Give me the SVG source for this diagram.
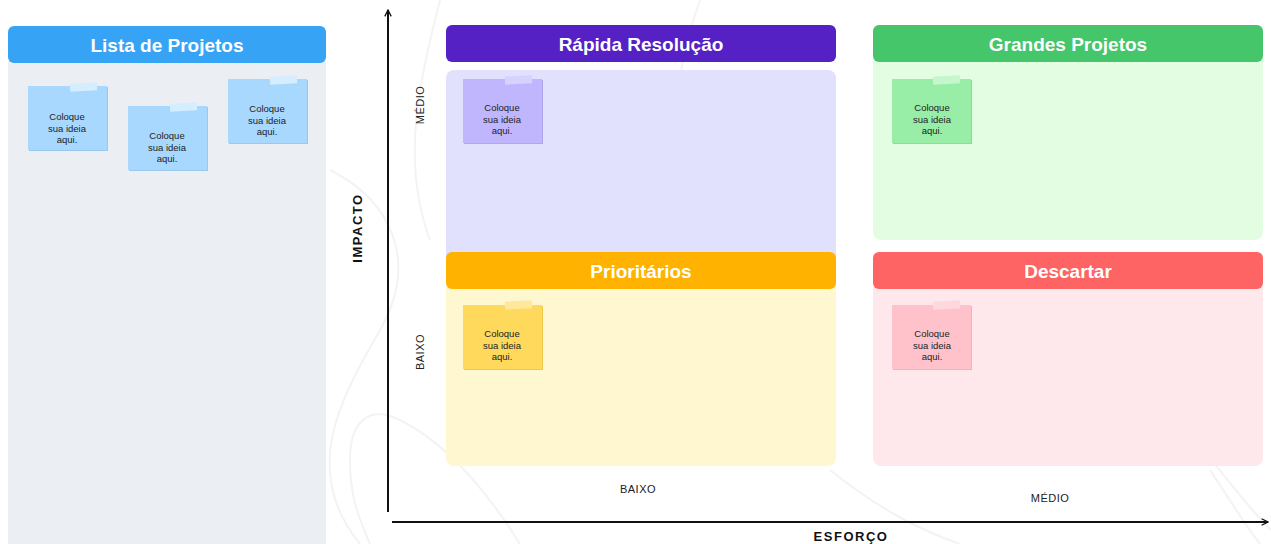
<svg xmlns="http://www.w3.org/2000/svg" width="1271" height="544" viewBox="0 0 1271 544">
<style>
.hdr{font-family:"Liberation Sans",Arial,sans-serif;font-weight:bold;font-size:19px;fill:#ffffff;text-anchor:middle}
.note{font-family:"Liberation Sans",Arial,sans-serif;font-size:9.5px;fill:#222222;text-anchor:middle}
.ax{font-family:"Liberation Sans",Arial,sans-serif;font-size:11px;fill:#222222;text-anchor:middle;letter-spacing:0.5px}
.axb{font-family:"Liberation Sans",Arial,sans-serif;font-weight:bold;font-size:13px;fill:#111111;text-anchor:middle;letter-spacing:1.5px}
.deco{fill:none;stroke:#f3f3f3;stroke-width:2}
.axis{stroke:#111111;stroke-width:2;fill:none}
</style>
<defs>
<marker id="arr" viewBox="0 0 10 10" refX="9" refY="5" markerWidth="8" markerHeight="8" orient="auto" markerUnits="userSpaceOnUse">
<path d="M1,1 L9,5 L1,9" fill="none" stroke="#111111" stroke-width="1.6"/>
</marker>
</defs>
<rect width="1271" height="544" fill="#ffffff"/>
<g id="decoration">
<path class="deco" d="M330,170 C390,200 420,260 380,330 C340,400 300,470 360,544"/>
<path class="deco" d="M440,0 C420,80 400,160 430,240"/>
<path class="deco" d="M520,544 C480,480 440,440 400,420 C370,405 350,420 350,460 C350,500 360,520 370,544"/>
<path class="deco" d="M830,470 C880,510 920,530 960,544"/>
<path class="deco" d="M1180,420 C1220,470 1250,510 1271,530"/>
<path class="deco" d="M700,0 C690,30 680,60 680,90"/>
<path class="deco" d="M1210,470 C1230,500 1245,525 1260,544"/>
</g>
<g id="lista-projetos">
<rect x="8" y="56" width="318" height="500" rx="6" fill="#ebeff3"/>
<rect x="8" y="26" width="318" height="37" rx="6" fill="#36a3f5"/>
<text class="hdr" x="167" y="52">Lista de Projetos</text>
</g>
<g id="note-lista-1">
<rect x="29" y="87" width="79" height="64" fill="#98c8ee"/>
<rect x="28" y="86" width="79" height="64" fill="#a8d8fd"/>
<rect x="70" y="83" width="27" height="8" fill="#d4eeff" transform="rotate(-3 83 87)"/>
<text class="note" x="67" y="120">Coloque</text>
<text class="note" x="67" y="131.5">sua ideia</text>
<text class="note" x="67" y="143">aqui.</text>
</g>
<g id="note-lista-2">
<rect x="129" y="107" width="79" height="64" fill="#98c8ee"/>
<rect x="128" y="106" width="79" height="64" fill="#a8d8fd"/>
<rect x="170" y="103" width="27" height="8" fill="#d4eeff" transform="rotate(-3 183 107)"/>
<text class="note" x="167" y="139">Coloque</text>
<text class="note" x="167" y="150.5">sua ideia</text>
<text class="note" x="167" y="162">aqui.</text>
</g>
<g id="note-lista-3">
<rect x="229" y="80" width="79" height="64" fill="#98c8ee"/>
<rect x="228" y="79" width="79" height="64" fill="#a8d8fd"/>
<rect x="270" y="76" width="27" height="8" fill="#d4eeff" transform="rotate(-3 283 80)"/>
<text class="note" x="267" y="112">Coloque</text>
<text class="note" x="267" y="123.5">sua ideia</text>
<text class="note" x="267" y="135">aqui.</text>
</g>
<g id="rapida-resolucao">
<rect x="446" y="70" width="390" height="200" rx="8" fill="#e1e1fe"/>
<rect x="446" y="25" width="390" height="37" rx="6" fill="#5521c4"/>
<text class="hdr" x="641" y="51">Rápida Resolução</text>
</g>
<g id="note-rapida">
<rect x="464" y="80" width="79" height="64" fill="#b0a6ee"/>
<rect x="463" y="79" width="79" height="64" fill="#c0b6fe"/>
<rect x="505" y="76" width="27" height="8" fill="#d6d2fe" transform="rotate(-3 518 80)"/>
<text class="note" x="502" y="111">Coloque</text>
<text class="note" x="502" y="122.5">sua ideia</text>
<text class="note" x="502" y="134">aqui.</text>
</g>
<g id="grandes-projetos">
<rect x="873" y="52" width="390" height="188" rx="8" fill="#e3fde3"/>
<rect x="873" y="25" width="390" height="37" rx="6" fill="#45c66a"/>
<text class="hdr" x="1068" y="51">Grandes Projetos</text>
</g>
<g id="note-grandes">
<rect x="893" y="80" width="79" height="64" fill="#88de96"/>
<rect x="892" y="79" width="79" height="64" fill="#98eea6"/>
<rect x="933" y="76" width="27" height="8" fill="#c6f6cc" transform="rotate(-3 946 80)"/>
<text class="note" x="932" y="111">Coloque</text>
<text class="note" x="932" y="122.5">sua ideia</text>
<text class="note" x="932" y="134">aqui.</text>
</g>
<g id="prioritarios">
<rect x="446" y="280" width="390" height="186" rx="8" fill="#fef7cf"/>
<rect x="446" y="252" width="390" height="37" rx="6" fill="#ffb300"/>
<text class="hdr" x="641" y="278">Prioritários</text>
</g>
<g id="note-prioritarios">
<rect x="464" y="306" width="79" height="64" fill="#efc94c"/>
<rect x="463" y="305" width="79" height="64" fill="#ffd95c"/>
<rect x="505" y="301" width="27" height="8" fill="#ffe89a" transform="rotate(-3 518 305)"/>
<text class="note" x="502" y="337">Coloque</text>
<text class="note" x="502" y="348.5">sua ideia</text>
<text class="note" x="502" y="360">aqui.</text>
</g>
<g id="descartar">
<rect x="873" y="280" width="390" height="186" rx="8" fill="#ffe8eb"/>
<rect x="873" y="252" width="390" height="37" rx="6" fill="#ff6464"/>
<text class="hdr" x="1068" y="278">Descartar</text>
</g>
<g id="note-descartar">
<rect x="893" y="306" width="79" height="64" fill="#efb2bb"/>
<rect x="892" y="305" width="79" height="64" fill="#ffc2cb"/>
<rect x="933" y="301" width="27" height="8" fill="#ffd8de" transform="rotate(-3 946 305)"/>
<text class="note" x="932" y="337">Coloque</text>
<text class="note" x="932" y="348.5">sua ideia</text>
<text class="note" x="932" y="360">aqui.</text>
</g>
<g id="connectors">
<line class="axis" x1="388" y1="512" x2="388" y2="10" marker-end="url(#arr)"/>
<line class="axis" x1="392" y1="522" x2="1268" y2="522" marker-end="url(#arr)"/>
</g>
<g id="axis-labels">
<text class="axb" x="0" y="0" transform="translate(362 228) rotate(-90)">IMPACTO</text>
<text class="ax" x="0" y="0" transform="translate(424 105) rotate(-90)">MÉDIO</text>
<text class="ax" x="0" y="0" transform="translate(424 352) rotate(-90)">BAIXO</text>
<text class="ax" x="638" y="493">BAIXO</text>
<text class="ax" x="1050" y="502">MÉDIO</text>
<text class="axb" x="851" y="541">ESFORÇO</text>
</g>
</svg>
